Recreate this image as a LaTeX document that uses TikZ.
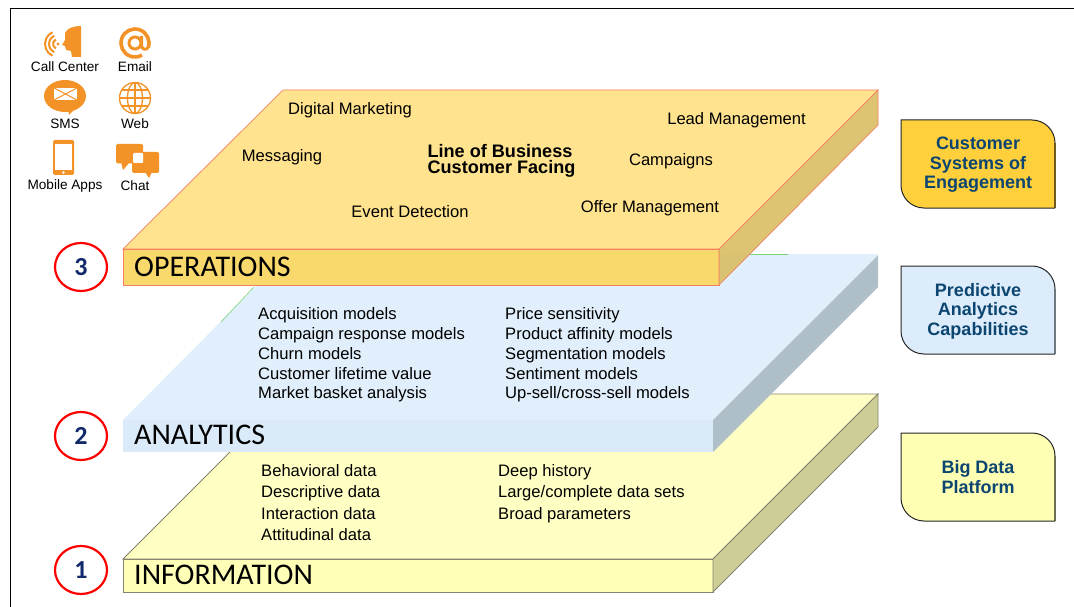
\documentclass[tikz,border=0pt]{standalone}
\usepackage{fontspec}
\setmainfont{Liberation Sans}
\newfontfamily\layerfont{Carlito}
\usetikzlibrary{shapes.geometric}
\definecolor{opstop}{HTML}{FFE38E}
\definecolor{opsfront}{HTML}{F9D96C}
\definecolor{opsside}{HTML}{D9BF66}
\definecolor{opsedge}{HTML}{F47F62}
\definecolor{antop}{HTML}{E0EFFB}
\definecolor{anfront}{HTML}{DAEAF9}
\definecolor{anside}{HTML}{AFBFCA}
\definecolor{infotop}{HTML}{FFFFC4}
\definecolor{infofront}{HTML}{FFFFB8}
\definecolor{infoside}{HTML}{CDCD96}
\definecolor{infoedge}{HTML}{85856F}
\definecolor{iconorange}{HTML}{F29227}
\definecolor{boxtext}{HTML}{0B4570}
\definecolor{numblue}{HTML}{12296B}
\tikzset{
  layertext/.style={font=\layerfont\fontsize{30}{32}\selectfont,right,inner sep=0pt},
  itemtext/.style={font=\fontsize{16.6}{18}\selectfont,right,inner sep=0pt,text height=14pt,text depth=2.5pt},
  freetext/.style={font=\fontsize{16.6}{18}\selectfont,inner sep=0pt},
  icontext/.style={font=\fontsize{13.6}{15}\selectfont,inner sep=0pt},
  boxtitle/.style={font=\bfseries\fontsize{18}{19.6}\selectfont,text=boxtext,align=center,inner sep=0pt},
  numcircle/.style={draw=red,line width=2.2pt,fill=white,ellipse,minimum width=52pt,minimum height=48pt,inner sep=0pt,
    font=\layerfont\bfseries\fontsize{26}{28}\selectfont,text=numblue},
}
\begin{document}
\begin{tikzpicture}[x=1pt,y=-1pt]
\useasboundingbox(0,0)rectangle(1074,607);
%frame
\draw[black,line width=1pt](10,607)--(10,8.5)--(1074,8.5);
%information slab
\draw[infoedge,fill=infotop,line width=.8pt](123,559)--(288,394)--(878,394)--(713,559)--cycle;
\draw[infoedge,fill=infofront,line width=.8pt](123,559)rectangle(713,592);
\draw[infoedge,fill=infoside,line width=.8pt](713,559)--(878,394)--(878,427)--(713,592)--cycle;
%analytics slab
\fill[antop](123,420)--(288,254)--(878,254)--(713,420)--cycle;
\fill[anfront](123,420)rectangle(713,452);
\fill[anside](713,420)--(878,255)--(878,287)--(713,452)--cycle;
\draw[green!50!gray!70,line width=.6pt](750,254)--(788,254);
\draw[green!50!gray!70,line width=.6pt](221,322)--(254,287);
%operations slab
\draw[opsedge,fill=opstop,line width=.7pt](123,249)--(283,90)--(878,90)--(719,249)--cycle;
\draw[opsedge,fill=opsfront,line width=.7pt](123,249)rectangle(719,285);
\draw[opsedge,fill=opsside,fill opacity=.92,line width=.7pt](719,249)--(878,90)--(878,125)--(719,285)--cycle;
%layer names
\node[layertext](opsname)at(134,267){OPERATIONS};
\node[layertext](anname)at(134,435){ANALYTICS};
\node[layertext](infoname)at(134,575){INFORMATION};
%numbers
\node[numcircle](numthree)at(81,267){3};
\node[numcircle](numtwo)at(81,436){2};
\node[numcircle](numone)at(81,570){1};
%operations labels
\node[freetext](digital)at(350,110.5){Digital Marketing};
\node[freetext](messaging)at(282,157.5){Messaging};
\node[freetext](event)at(410,212){Event Detection};
\node[freetext](lead)at(736.5,120.5){Lead Management};
\node[freetext](campaigns)at(671,161.5){Campaigns};
\node[freetext](offer)at(650,208.5){Offer Management};
\node[font=\bfseries\fontsize{18.1}{16}\selectfont,align=left,inner sep=0pt](lob)at(501.5,161){Line of Business\\Customer Facing};
%analytics labels
\node[itemtext](acq)at(258,314){Acquisition models};
\node[itemtext](resp)at(258,334){Campaign response models};
\node[itemtext](churn)at(258,354){Churn models};
\node[itemtext](ltv)at(258,374){Customer lifetime value};
\node[itemtext](basket)at(258,393){Market basket analysis};
\node[itemtext](price)at(505,314){Price sensitivity};
\node[itemtext](affinity)at(505,334){Product affinity models};
\node[itemtext](segment)at(505,354){Segmentation models};
\node[itemtext](senti)at(505,374){Sentiment models};
\node[itemtext](upsell)at(505,393){Up-sell/cross-sell models};
%information labels
\node[itemtext](behav)at(261,471){Behavioral data};
\node[itemtext](descr)at(261,492){Descriptive data};
\node[itemtext](inter)at(261,514){Interaction data};
\node[itemtext](atti)at(261,535){Attitudinal data};
\node[itemtext](deep)at(498,471){Deep history};
\node[itemtext](large)at(498,492){Large/complete data sets};
\node[itemtext](broad)at(498,514){Broad parameters};
%side boxes
\foreach \y/\c/\e in {120/FFD03C/6E5A1E,266/DCECFB/6E7880,433/FFFFB4/6E6E50}{
\definecolor{boxfill}{HTML}{\c}
\definecolor{boxright}{HTML}{\e}
\fill[boxfill](901,\y)--(1032,\y)arc(-90:0:23)--(1055,\y+88)--(924,\y+88)arc(90:180:23)--cycle;
\draw[boxright,line width=1.2pt](1055,\y+23)--(1055,\y+88);
\draw[black!85,line width=1pt](1055,\y+23)arc(0:-90:23)--(901,\y)--(901,\y+65)arc(180:90:23)--(1055,\y+88);
}
\node[boxtitle](engage)at(978,165){Customer\\Systems of\\Engagement};
\node[boxtitle](predict)at(978,311){Predictive\\Analytics\\Capabilities};
\node[boxtitle](bigdata)at(978,477){Big Data\\Platform};
%call center icon
\fill[iconorange](81,26)--(81,57)--(72,57)--(71,51)--(66,50)--(65,46)--(62,45)--(65,40)--(65,33)..controls(67,28)and(74,26)..cycle;
\fill[iconorange](58,44)circle(1.6);
\foreach \r in {5,9,13}{
\draw[iconorange,line width=2pt](58,44)++(115:\r)arc(115:245:\r);
}
%email icon
\draw[iconorange,line width=3.6pt](135,43)++(20:14)arc(20:-300:14);
\draw[iconorange,line width=3pt](135,43)circle(6);
\draw[iconorange,line width=3pt](141.5,36)--(141.5,45)..controls(141.5,50)and(146,50)..(148.2,47.8);
%sms icon
\fill[iconorange](65,96)ellipse(21 and 16);
\fill[iconorange](68,108)--(69,115)--(77,107)--cycle;
\fill[white](54,88)rectangle(77,100);
\draw[iconorange,line width=1pt](54,88)--(77,100)(54,100)--(77,88);
%web icon
\draw[iconorange,line width=1.3pt](135,98)circle(15.5);
\draw[iconorange,line width=1.3pt](135,98)ellipse(7.5 and 15.5);
\draw[iconorange,line width=1.3pt](135,82.5)--(135,113.5)(119.5,98)--(150.5,98);
\draw[iconorange,line width=1.3pt](122,90)--(148,90)(122,106)--(148,106);
%mobile icon
\fill[iconorange,rounded corners=1.5pt](53,140)rectangle(74,175);
\fill[white](55,144.5)rectangle(72,170);
\fill[white](63.5,172.5)circle(1.3);
%chat icon
\fill[iconorange,rounded corners=1.5pt](116,144)rectangle(143,163.5);
\fill[iconorange](121,162)--(123,170)--(130,162)--cycle;
\fill[iconorange,rounded corners=1.5pt](132,152)rectangle(159,173);
\fill[iconorange](145,172)--(149,178)--(152,172)--cycle;
\fill[white,rounded corners=1pt](133,153)rectangle(143,163);
%icon labels
\node[icontext](callname)at(65,66.5){Call Center};
\node[icontext](emailname)at(135,66.5){Email};
\node[icontext](smsname)at(65,123.5){SMS};
\node[icontext](webname)at(135,123.5){Web};
\node[icontext](mobilename)at(65,185.5){Mobile Apps};
\node[icontext](chatname)at(135,185.5){Chat};
\end{tikzpicture}
\end{document}
